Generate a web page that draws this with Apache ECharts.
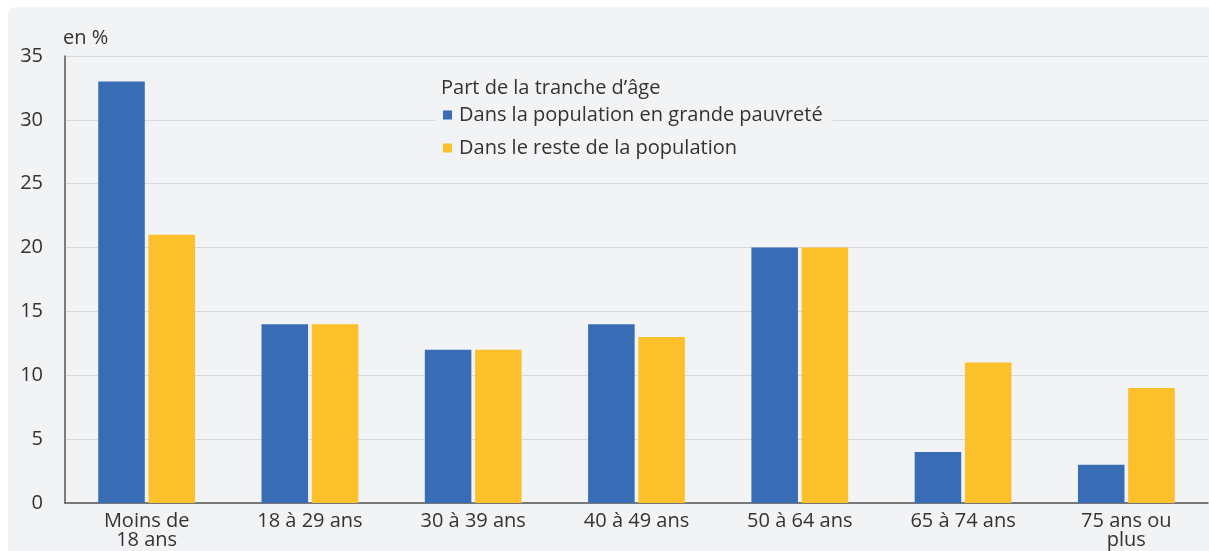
<!DOCTYPE html>
<html>
<head>
<meta charset="utf-8">
<script src="https://cdn.jsdelivr.net/npm/echarts@6/dist/echarts.min.js"></script>
<style>
  html, body { margin: 0; padding: 0; background: #ffffff; }
  #chart {
    position: absolute; left: 8px; top: 7px;
    width: 1201px; height: 544px;
    background: #f2f3f5; border-radius: 8px 0 0 0;
  }
</style>
</head>
<body>
<div id="chart"></div>
<script>
// categories & values (en %)
var categories = ['Moins de\n18 ans', '18 à 29 ans', '30 à 39 ans', '40 à 49 ans', '50 à 64 ans', '65 à 74 ans', '75 ans ou\nplus'];
var pauvrete = [33, 14, 12, 14, 20, 4, 3];
var reste = [21, 14, 12, 13, 20, 11, 9];
var seriesNames = ['Dans la population en grande pauvreté', 'Dans le reste de la population'];

var bg = '#f2f3f5';
var font = '"Open Sans", "Noto Sans", sans-serif';

var chart = echarts.init(document.getElementById('chart'));
chart.setOption({
  backgroundColor: 'transparent',
  textStyle: { fontFamily: font },
  title: {
    text: 'Part de la tranche d’âge',
    left: 428, top: 66,
    textStyle: { fontSize: 20, fontWeight: 'normal', color: '#333', fontFamily: font }
  },
  legend: {
    orient: 'vertical',
    left: 427, top: 97,
    icon: 'rect',
    itemWidth: 9, itemHeight: 9,
    itemGap: 11,
    padding: [0, 10, 0, 8],
    backgroundColor: bg,
    textStyle: { fontSize: 20, color: '#333', lineHeight: 22, padding: [0, 0, 0, 2], fontFamily: font },
    data: seriesNames
  },
  grid: { left: 57, right: 1, top: 49, bottom: 48 },
  xAxis: {
    type: 'category',
    data: categories,
    axisLine: { lineStyle: { color: '#555', width: 1.5 } },
    axisTick: { show: false },
    axisLabel: { color: '#333', fontSize: 20, lineHeight: 19, margin: 9, interval: 0, fontFamily: font }
  },
  yAxis: {
    type: 'value',
    min: 0, max: 35, interval: 5,
    name: 'en %',
    nameLocation: 'end',
    nameGap: 8,
    nameTextStyle: { color: '#333', fontSize: 20, align: 'left', padding: [0, 0, 0, -2], fontFamily: font },
    axisLine: { show: true, lineStyle: { color: '#555', width: 1.5 } },
    axisTick: { show: false },
    axisLabel: { color: '#333', fontSize: 20, margin: 22, fontFamily: font },
    splitLine: { lineStyle: { color: '#d6d8dc', width: 1 } }
  },
  series: [
    {
      name: seriesNames[0], type: 'bar', data: pauvrete,
      barWidth: '28.5%', barGap: '8%',
      itemStyle: { color: '#386cb5' }
    },
    {
      name: seriesNames[1], type: 'bar', data: reste,
      barWidth: '28.5%',
      itemStyle: { color: '#fcc02b' }
    }
  ]
});
</script>
</body>
</html>
